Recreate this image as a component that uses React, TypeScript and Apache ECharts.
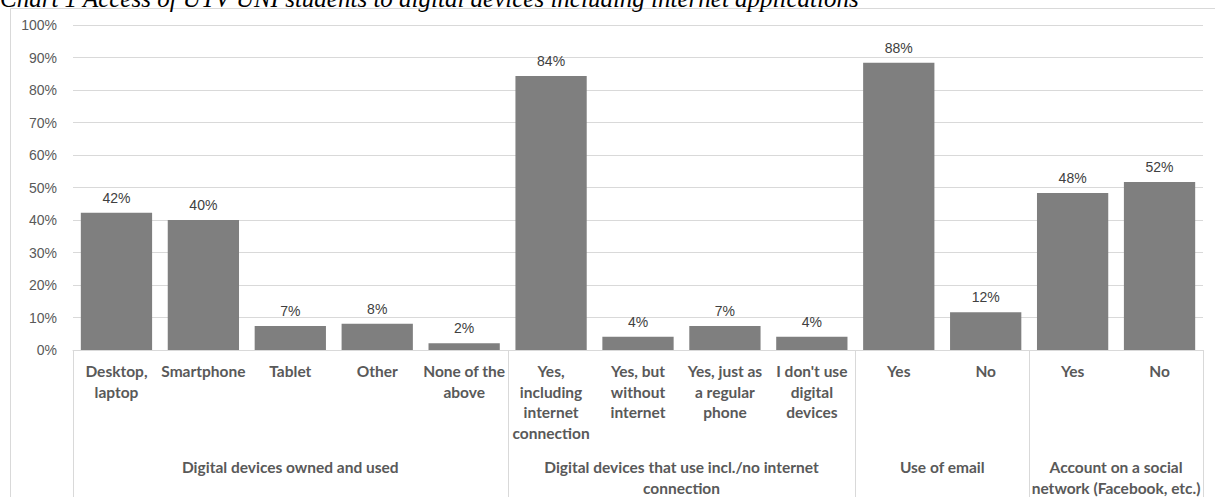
import React, { useEffect, useRef } from "react";
import * as echarts from "echarts";

const titleText =
  "Chart 1 Access of UTV UNI students to digital devices including internet applications";

const categories = [
  "Desktop,\nlaptop",
  "Smartphone",
  "Tablet",
  "Other",
  "None of the\nabove",
  "Yes,\nincluding\ninternet\nconnection",
  "Yes, but\nwithout\ninternet",
  "Yes, just as\na regular\nphone",
  "I don't use\ndigital\ndevices",
  "Yes",
  "No",
  "Yes",
  "No",
];

const values = [42.2, 40.0, 7.4, 8.1, 2.1, 84.3, 4.1, 7.4, 4.1, 88.4, 11.6, 48.3, 51.7];

const groupNames = [
  "Digital devices owned and used",
  "Digital devices that use incl./no internet\nconnection",
  "Use of email",
  "Account on a social\nnetwork (Facebook, etc.)",
];
const groupSizes = [5, 4, 2, 2];

const yMin = 0;
const yMax = 100;
const yInterval = 10;

const GRID = "#d9d9d9";
const TEXT = "#595959";

export default function App() {
  const ref = useRef<HTMLDivElement>(null);
  useEffect(() => {
    if (!ref.current) return;
    const chart = echarts.init(ref.current, undefined, { renderer: "svg" });
    chart.setOption({
      animation: false,
      grid: { left: 73, right: 12, top: 25, bottom: 147 },
      xAxis: {
        type: "category",
        data: categories,
        axisLine: { show: true, lineStyle: { color: GRID, width: 1 } },
        axisTick: { show: false },
        axisLabel: {
          interval: 0,
          color: TEXT,
          fontFamily: "Lato",
          fontWeight: "bold",
          fontSize: 15.5,
          lineHeight: 20.5,
          margin: 11,
          align: "center",
        },
      },
      yAxis: {
        type: "value",
        min: yMin,
        max: yMax,
        interval: yInterval,
        axisLine: { show: false },
        axisTick: { show: false },
        splitLine: { lineStyle: { color: GRID, width: 1 } },
        axisLabel: {
          formatter: "{value}%",
          color: TEXT,
          fontFamily: "Liberation Sans",
          fontSize: 14,
          margin: 16,
        },
      },
      series: [
        {
          type: "bar",
          data: values,
          barCategoryGap: "18%",
          itemStyle: { color: "#7f7f7f" },
          label: {
            show: true,
            position: "top",
            distance: 8,
            color: "#404040",
            fontFamily: "Liberation Sans",
            fontSize: 14,
            formatter: (p: any) => Math.round(p.value) + "%",
          },
        },
      ],
    });

    const c0 = chart.convertToPixel({ xAxisIndex: 0 }, 0) as number;
    const c1 = chart.convertToPixel({ xAxisIndex: 0 }, 1) as number;
    const bw = c1 - c0;
    const left = c0 - bw / 2;
    const y0 = chart.convertToPixel({ yAxisIndex: 0 }, 0) as number;

    const graphics: any[] = [
      {
        type: "rect",
        shape: { x: 10.5, y: 8.5, width: 1220, height: 520 },
        style: { fill: "none", stroke: GRID, lineWidth: 1 },
        silent: true,
        z: -1,
      },
      {
        type: "text",
        x: 0,
        y: -1.5,
        style: {
          text: titleText,
          font: "italic 25px 'Liberation Serif'",
          fill: "#000000",
          verticalAlign: "middle",
          align: "left",
        },
      },
    ];
    let k = 0;
    const bounds = [0];
    groupSizes.forEach((s) => {
      k += s;
      bounds.push(k);
    });
    bounds.forEach((b) => {
      const x = Math.round(left + b * bw) + 0.5;
      graphics.push({
        type: "line",
        shape: { x1: x, y1: y0, x2: x, y2: y0 + 160 },
        style: { stroke: GRID, lineWidth: 1 },
        silent: true,
      });
    });
    groupNames.forEach((g, i) => {
      const cx = left + (bounds[i] + groupSizes[i] / 2) * bw;
      graphics.push({
        type: "text",
        x: cx,
        y: y0 + 107,
        style: {
          text: g,
          fill: TEXT,
          font: "bold 15.5px Lato",
          lineHeight: 20.5,
          align: "center",
          verticalAlign: "top",
        },
      });
    });
    chart.setOption({ graphic: graphics });

    return () => chart.dispose();
  }, []);
  return (
    <div
      ref={ref}
      style={{ position: "fixed", left: 0, top: 0, width: 1215, height: 497, background: "#fff" }}
    />
  );
}
